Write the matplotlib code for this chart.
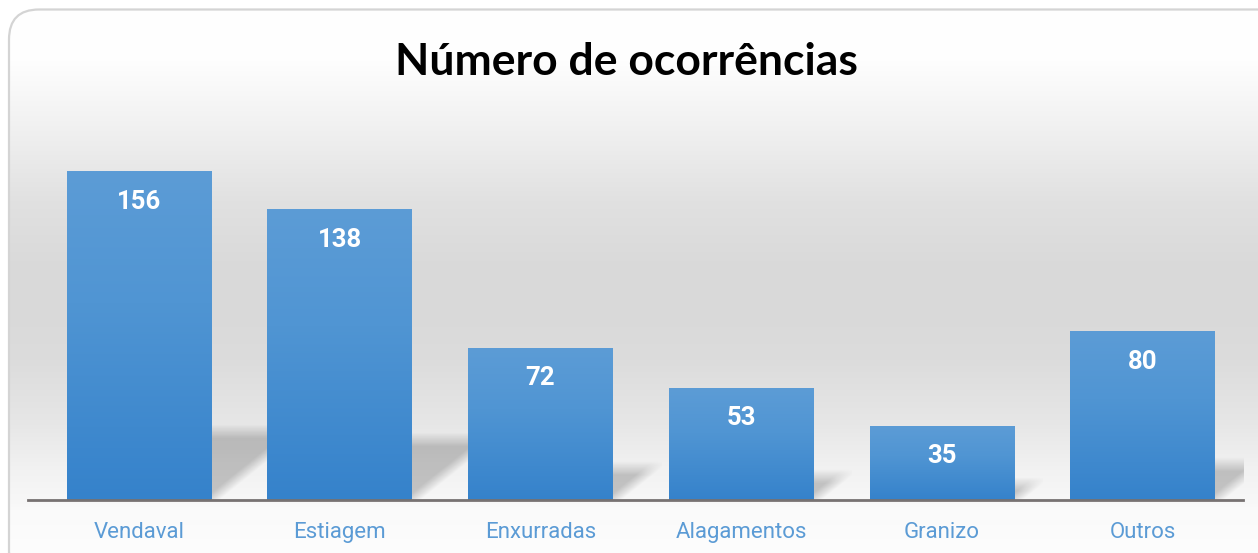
import numpy as np
import matplotlib
matplotlib.use("Agg")
import matplotlib.pyplot as plt
from matplotlib.colors import LinearSegmentedColormap
from matplotlib.patches import FancyBboxPatch

categories = ["Vendaval", "Estiagem", "Enxurradas", "Alagamentos", "Granizo", "Outros"]
values = [156, 138, 72, 53, 35, 80]
title = "Número de ocorrências"

W, H = 1258, 553
narrow = ["Roboto", "DejaVu Sans"]

fig = plt.figure(figsize=(W / 100, H / 100), dpi=100)
fig.patch.set_facecolor("white")

# background panel with vertical grey gradient and rounded border
bg = fig.add_axes([0, 0, 1, 1], zorder=0)
bg.set_xlim(0, W)
bg.set_ylim(H, 0)
bg.axis("off")
stops_y = [0, 60, 100, 150, 200, 260, 310, 360, 420, 470, 500, 510, 553]
stops_g = [255, 254, 246, 236, 225, 218, 217, 220, 230, 242, 247, 250, 253]
yy = np.arange(H)
col = np.interp(yy, stops_y, stops_g) / 255.0
grad = np.repeat(col[:, None], W, axis=1)
rgb = np.dstack([grad, grad, grad])
img = bg.imshow(rgb, extent=[0, W, H, 0], aspect="auto", interpolation="none")
panel = FancyBboxPatch((9, 9.5), W + 20, H + 20,
                       boxstyle="round,pad=0,rounding_size=30",
                       fc="none", ec="#d4d4d4", lw=1.6)
bg.add_patch(panel)
img.set_clip_path(panel)

# main axes
px_unit = 2.103           # pixels per value unit
base_px = 500
ymax = 180
top_px = base_px - ymax * px_unit
ax = fig.add_axes([28 / W, (H - base_px) / H, (1243 - 28) / W, (base_px - top_px) / H],
                  zorder=1)
ax.patch.set_alpha(0)

x = np.arange(len(categories))
bars = ax.bar(x, values, width=0.72, color="none", edgecolor="none", zorder=3)

bar_cmap = LinearSegmentedColormap.from_list(
    "bar", [(0, "#3582cb"), (0.6, "#5095d3"), (1.0, "#5c9cd6")])
vert = np.linspace(0, 1, 256)[:, None]

x_px_unit = 200.7
for b, v in zip(bars, values):
    x0, w, h = b.get_x(), b.get_width(), b.get_height()
    # gradient fill
    ax.imshow(vert, cmap=bar_cmap, origin="lower", extent=[x0, x0 + w, 0, h],
              aspect="auto", zorder=3, interpolation="bilinear")
    # soft slanted shadow to the right
    sh = 0.205 * v + 3.7
    sh_px = sh * px_unit
    sw_px = sh_px / 0.8
    sw = sw_px / x_px_unit
    nu, nt = 120, 120
    u = np.linspace(0, 1, nu)[None, :]
    t = np.linspace(0, 1, nt)[:, None]
    a_diag = np.clip((t - u) * sh_px / 14 + 0.5, 0, 1)
    a_top = np.clip((1 - t) * sh_px / 14, 0, 1)
    alpha = a_diag * a_top * 0.21
    rgba = np.zeros((nt, nu, 4))
    rgba[..., 3] = alpha
    ax.imshow(rgba, origin="lower", extent=[x0 + w, x0 + w + sw, 0, sh],
              aspect="auto", zorder=2, interpolation="bilinear")
    ax.annotate(str(v), (x0 + w / 2, h), xytext=(0, -21.5), textcoords="offset points",
                ha="center", va="center", color="white", fontsize=18.5,
                fontweight="bold", family=narrow, zorder=4)

ax.set_xlim(-0.553, 5.501)
ax.set_ylim(0, ymax)
for s in ["top", "right", "left"]:
    ax.spines[s].set_visible(False)
ax.spines["bottom"].set_color("#767171")
ax.spines["bottom"].set_linewidth(2)
ax.spines["bottom"].set_zorder(5)
ax.set_yticks([])
ax.set_xticks(x)
ax.set_xticklabels(categories, color="#5b9bd5", fontsize=16, family=narrow)
ax.tick_params(axis="x", length=0, pad=15.5)

fig.text(626 / W, (H - 75) / H, title, ha="center", va="baseline",
         fontsize=32, fontweight="bold", family=["Lato", "DejaVu Sans"], color="black")

fig.savefig("out.png", dpi=100)
